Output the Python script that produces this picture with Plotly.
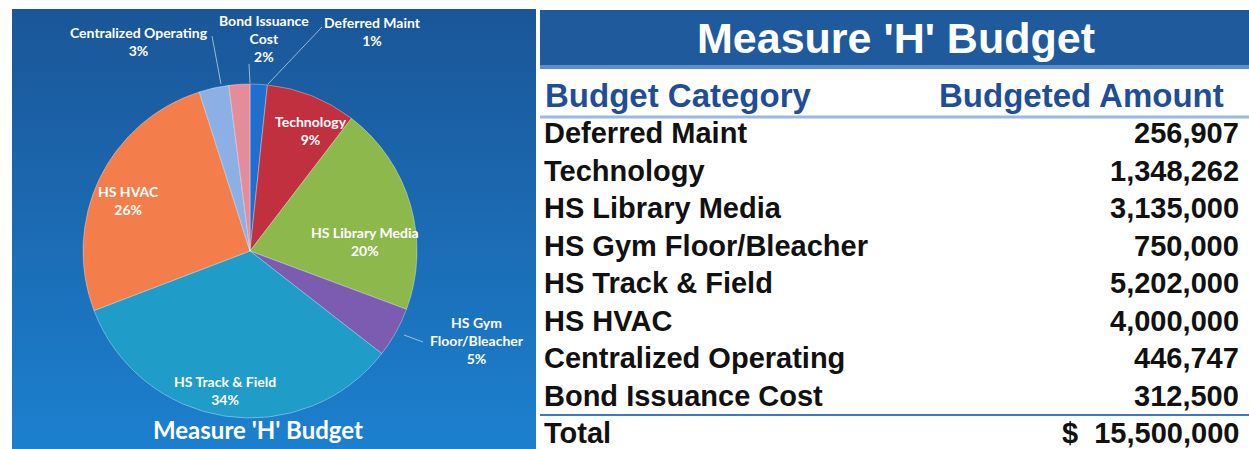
import plotly.graph_objects as go

# ---------------- data ----------------
categories = ["Deferred Maint", "Technology", "HS Library Media", "HS Gym Floor/Bleacher",
              "HS Track & Field", "HS HVAC", "Centralized Operating", "Bond Issuance Cost"]
amounts = [256907, 1348262, 3135000, 750000, 5202000, 4000000, 446747, 312500]
total_label = "Total"
total_amount = 15500000
pie_labels = ["Deferred Maint", "Technology", "HS Library Media", "HS Gym<br>Floor/Bleacher",
              "HS Track & Field", "HS HVAC", "Centralized Operating", "Bond Issuance<br>Cost"]
pie_pct_labels = ["1%", "9%", "20%", "5%", "34%", "26%", "3%", "2%"]
chart_title = "Measure 'H' Budget"
table_title = "Measure 'H' Budget"
header = ["Budget Category", "Budgeted Amount"]

# ---------------- styles ----------------
W, H = 1249, 449
slice_colors = ["#1f6fcf", "#c0303f", "#8db84c", "#7b5cb0",
                "#1f9cc7", "#f37e4b", "#8cb0e6", "#e58c9b"]
# label centres (pixels) for the pie labels
label_pos = [(372, 31), (311, 130), (365, 241), (477, 340),
             (225, 390), (128, 200), (139, 41), (264, 38)]
leaders = [((322, 27), (268, 84)), ((249, 64), (250, 83)), ((212, 36), (221, 84)),
           ((423, 342), (404, 335))]

pie_cx, pie_cy, pie_r = 250, 251, 167
row_y0, row_step = 133, 37.5

fig = go.Figure()

# left panel background with vertical gradient
fig.add_trace(go.Scatter(
    x=[12, 536, 536, 12, 12], y=[9, 9, 449, 449, 9], mode="lines",
    fill="toself", line=dict(width=0),
    fillgradient=dict(type="vertical", colorscale=[[0, "#1c80cf"], [1, "#1a5698"]]),
    hoverinfo="skip", showlegend=False))

# pie
fig.add_trace(go.Pie(
    values=amounts, labels=categories, sort=False, direction="clockwise", rotation=0,
    textinfo="none", showlegend=False,
    marker=dict(colors=slice_colors, line=dict(color="rgba(255,255,255,0.35)", width=1)),
    domain=dict(x=[(pie_cx - pie_r) / W, (pie_cx + pie_r) / W],
                y=[1 - (pie_cy + pie_r) / H, 1 - (pie_cy - pie_r) / H])))

shapes = []
# title bar
shapes.append(dict(type="rect", xref="x", yref="y", x0=540, x1=1249, y0=10, y1=65,
                   fillcolor="#1f5a9c", line=dict(width=0), layer="above"))
shapes.append(dict(type="line", xref="x", yref="y", x0=540, x1=1249, y0=67, y1=67,
                   line=dict(color="#5b8fd0", width=4), layer="above"))
shapes.append(dict(type="line", xref="x", yref="y", x0=540, x1=1249, y0=117, y1=117,
                   line=dict(color="#9ab8e0", width=3), layer="above"))
shapes.append(dict(type="line", xref="x", yref="y", x0=540, x1=1249, y0=415, y1=415,
                   line=dict(color="#3a78c8", width=2), layer="above"))
for (a, b) in leaders:
    shapes.append(dict(type="line", xref="x", yref="y", x0=a[0], y0=a[1], x1=b[0], y1=b[1],
                       line=dict(color="rgba(190,205,230,0.8)", width=1), layer="above"))

annotations = []
for i, (px, py) in enumerate(label_pos):
    annotations.append(dict(x=px, y=py, xref="x", yref="y", showarrow=False,
                            text=f"{pie_labels[i]}<br>{pie_pct_labels[i]}",
                            xanchor="center", yanchor="middle", align="center",
                            font=dict(family="Lato", size=14, color="white", weight="bold")))
annotations.append(dict(x=258, y=446, xref="x", yref="y", showarrow=False, text=chart_title,
                        xanchor="center", yanchor="bottom",
                        font=dict(family="Lato", size=24, color="white", weight="bold")))
annotations.append(dict(x=896, y=38, xref="x", yref="y", showarrow=False, text=table_title,
                        xanchor="center", yanchor="middle",
                        font=dict(family="Liberation Sans", size=43, color="white", weight="bold")))

# table header
hdr_font = dict(family="Liberation Sans", size=33, color="#1f4e96", weight="bold")
annotations.append(dict(x=543, y=95, xref="x", yref="y", showarrow=False, text=header[0],
                        xanchor="left", yanchor="middle", font=hdr_font))
annotations.append(dict(x=1226, y=95, xref="x", yref="y", showarrow=False, text=header[1],
                        xanchor="right", yanchor="middle", font=hdr_font))

# table rows
row_font = dict(family="Liberation Sans", size=29, color="#111111", weight="bold")
cat_text = categories + [total_label]
amount_text = [f"{v:,}" for v in amounts] + [f"$\u00a0\u00a0{total_amount:,}"]
for i, (c, v) in enumerate(zip(cat_text, amount_text)):
    y = row_y0 + row_step * i
    annotations.append(dict(x=542, y=y, xref="x", yref="y", showarrow=False, text=c,
                            xanchor="left", yanchor="middle", font=row_font))
    annotations.append(dict(x=1241, y=y, xref="x", yref="y", showarrow=False, text=v,
                            xanchor="right", yanchor="middle", font=row_font))

fig.update_layout(
    width=W, height=H, margin=dict(l=0, r=0, t=0, b=0),
    paper_bgcolor="white", plot_bgcolor="rgba(0,0,0,0)",
    xaxis=dict(range=[0, W], visible=False, fixedrange=True, domain=[0, 1]),
    yaxis=dict(range=[H, 0], visible=False, fixedrange=True, domain=[0, 1]),
    shapes=shapes, annotations=annotations)

fig.write_html("out.html")
